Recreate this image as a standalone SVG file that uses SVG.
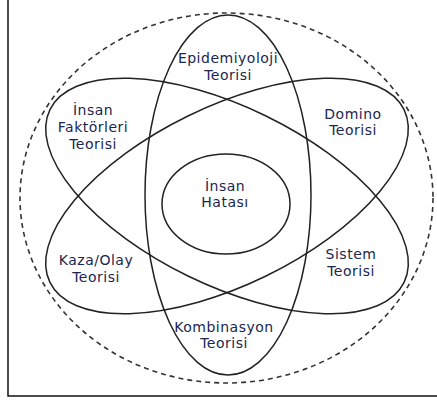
<svg xmlns="http://www.w3.org/2000/svg" width="437" height="401" viewBox="0 0 437 401">
  <style>
    .ring { fill: none; stroke: #222; stroke-width: 1.5; }
    .outer { fill: none; stroke: #333; stroke-width: 1.6; stroke-dasharray: 5 4; }
    .frame { fill: none; stroke: #111; stroke-width: 1.5; }
    .lbl { font-family: "DejaVu Sans", Verdana, sans-serif; font-size: 14px; letter-spacing: 0.5px; fill: #1a2650; text-anchor: middle; }
  </style>
  <rect width="437" height="401" fill="#fff"/>
  <g id="frame">
    <polyline class="frame" points="8,0 8,396 437,396"/>
  </g>
  <g id="shapes">
    <ellipse class="outer" cx="226.5" cy="198" rx="206.5" ry="185"/>
    <ellipse class="ring" cx="228" cy="195" rx="83" ry="180"/>
    <ellipse class="ring" cx="0" cy="0" rx="197" ry="89" transform="translate(227,196) rotate(26)"/>
    <ellipse class="ring" cx="0" cy="0" rx="197" ry="89" transform="translate(227,196) rotate(-26)"/>
  </g>
  <g id="insan-hatasi">
    <ellipse class="ring" cx="226" cy="204" rx="64" ry="50" stroke-width="1.8"/>
    <text class="lbl" x="225" y="190.5">İnsan</text>
    <text class="lbl" x="225" y="207">Hatası</text>
  </g>
  <g id="epidemiyoloji">
    <text class="lbl" x="228" y="63">Epidemiyoloji</text>
    <text class="lbl" x="228" y="79.5">Teorisi</text>
  </g>
  <g id="domino">
    <text class="lbl" x="353" y="118.5">Domino</text>
    <text class="lbl" x="353" y="135">Teorisi</text>
  </g>
  <g id="insan-faktorleri">
    <text class="lbl" x="93" y="115">İnsan</text>
    <text class="lbl" x="93" y="132">Faktörleri</text>
    <text class="lbl" x="93" y="149">Teorisi</text>
  </g>
  <g id="kaza-olay">
    <text class="lbl" x="96" y="265">Kaza/Olay</text>
    <text class="lbl" x="96" y="281.5">Teorisi</text>
  </g>
  <g id="sistem">
    <text class="lbl" x="351" y="259">Sistem</text>
    <text class="lbl" x="351" y="275.5">Teorisi</text>
  </g>
  <g id="kombinasyon">
    <text class="lbl" x="224" y="331.5">Kombinasyon</text>
    <text class="lbl" x="224" y="348">Teorisi</text>
  </g>
  <g id="connectors"/>
</svg>
